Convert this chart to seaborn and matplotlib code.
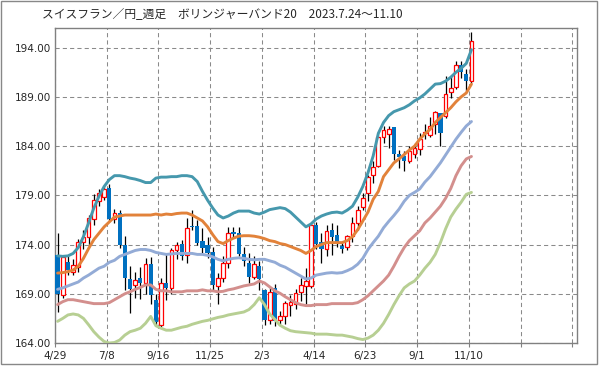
import pandas as pd
import seaborn as sns
import matplotlib.pyplot as plt
from matplotlib.patches import Rectangle

# weekly candles, 81 weeks (4/29 ... 11/10)
weeks = list(range(81))

open_ = [172.9, 168.9, 172.2, 171.2, 171.7, 174.3, 174.8, 176.6, 178.4, 178.8,
         179.7, 176.6, 177.2, 174.0, 170.5, 169.9, 170.65, 170.1, 172.0, 168.4,
         165.8, 170.1, 169.6, 173.4, 174.07, 172.95, 175.9, 175.9, 174.4, 173.96,
         173.2, 169.8, 170.6, 172.1, 175.25, 175.15, 173.05, 172.1, 170.7, 171.8,
         169.4, 166.3, 169.6, 166.35, 166.75, 167.9, 168.0, 169.2, 169.8, 169.8,
         176.0, 174.3, 173.6, 175.5, 175.0, 173.9, 173.8, 174.9, 176.2, 177.8,
         179.2, 181.05, 182.0, 184.9, 185.2, 185.9, 183.15, 183.0, 182.5, 183.15,
         183.7, 185.3, 185.1, 186.2, 187.4, 187.05, 189.5, 190.0, 192.2, 191.35,
         190.6]
high = [175.2, 172.9, 172.8, 172.5, 174.6, 175.5, 177.0, 179.1, 179.6, 180.0,
        180.2, 177.6, 177.5, 174.9, 171.8, 171.2, 171.7, 172.6, 172.7, 169.0,
        170.6, 173.0, 173.7, 174.3, 174.5, 176.7, 177.5, 176.5, 175.7, 174.8,
        173.8, 171.1, 172.8, 175.8, 175.8, 175.8, 173.8, 173.1, 172.8, 172.3,
        169.5, 169.7, 170.0, 167.3, 168.3, 168.9, 169.5, 170.6, 171.6, 176.1,
        176.3, 175.2, 176.0, 176.2, 176.0, 174.3, 175.0, 176.85, 177.9, 179.2,
        181.1, 182.5, 185.0, 186.0, 186.0, 185.95, 183.6, 183.5, 184.0, 184.3,
        185.3, 186.2, 187.0, 187.6, 187.4, 191.1, 191.1, 192.6, 192.6, 191.8,
        195.6]
low = [167.1, 168.6, 170.9, 170.9, 171.2, 173.5, 174.0, 176.0, 177.9, 178.5,
       176.3, 176.2, 173.7, 169.4, 167.0, 168.6, 168.5, 169.0, 168.0, 165.8,
       165.6, 168.4, 169.0, 172.5, 172.4, 172.1, 175.5, 174.0, 173.1, 172.6,
       169.4, 168.0, 170.2, 171.6, 174.8, 172.8, 171.8, 170.1, 170.5, 169.4,
       165.8, 165.9, 165.7, 165.9, 165.9, 166.7, 167.5, 168.3, 168.0, 169.6,
       173.6, 172.1, 172.8, 172.9, 173.8, 173.1, 173.4, 174.3, 175.5, 177.5,
       178.4, 180.3, 181.9, 184.3, 183.8, 182.6, 181.8, 181.5, 182.3, 182.8,
       183.1, 184.7, 184.9, 185.2, 184.0, 186.9, 188.9, 189.8, 190.9, 189.6,
       190.4]
close = [169.0, 172.7, 171.4, 171.9, 174.3, 174.8, 176.7, 178.5, 179.2, 179.6,
         176.6, 177.2, 174.0, 170.6, 169.45, 170.4, 170.1, 172.0, 168.9, 166.1,
         170.1, 169.6, 173.4, 174.0, 172.8, 175.7, 175.8, 174.2, 173.7, 173.1,
         169.9, 170.6, 172.1, 175.2, 175.1, 173.05, 172.3, 170.7, 172.0, 170.5,
         166.3, 169.2, 166.2, 166.75, 168.1, 168.2, 169.1, 169.9, 170.3, 176.0,
         174.1, 173.5, 175.4, 174.8, 174.3, 173.6, 174.9, 176.2, 177.5, 178.7,
         180.9, 181.9, 184.9, 185.6, 185.7, 183.15, 182.9, 182.5, 183.5, 183.8,
         184.7, 185.4, 186.0, 187.5, 185.35, 189.3, 189.9, 192.2, 191.5, 190.6,
         194.7]

# bollinger bands (20 weeks)
band_p2 = [172.85, 172.8, 172.85, 173.1, 173.7, 174.8, 176.2, 177.7, 178.9, 179.9,
           180.6, 181.0, 181.0, 180.9, 180.75, 180.65, 180.5, 180.3, 180.3, 180.75,
           180.85, 180.85, 180.9, 180.9, 181.0, 181.0, 180.9, 180.4, 179.4, 178.5,
           177.7, 177.0, 176.7, 176.9, 177.2, 177.4, 177.4, 177.4, 177.2, 177.1,
           177.3, 177.55, 177.65, 177.75, 177.65, 177.3, 176.8, 176.3, 175.8, 176.1,
           176.6, 176.9, 177.1, 177.25, 177.3, 177.2, 177.5, 177.9, 178.8, 179.9,
           181.3, 183.0, 185.3, 186.4, 187.1, 187.5, 187.7, 187.9, 188.2, 188.6,
           188.9, 189.3, 189.8, 190.3, 190.35, 190.6, 191.0, 191.5, 191.9, 192.4,
           193.8]
band_p1 = [171.1, 171.15, 171.25, 171.4, 171.8, 172.6, 173.6, 174.5, 175.15, 175.8,
           176.3, 176.8, 176.9, 177.0, 177.0, 177.0, 177.0, 177.0, 177.0, 177.1,
           177.0, 177.1, 177.05, 177.15, 177.2, 177.2, 177.0, 176.7, 176.4, 175.8,
           175.0, 174.3, 174.1, 174.4, 174.65, 174.85, 174.9, 174.9, 174.85, 174.75,
           174.6, 174.4, 174.3, 174.1, 174.0, 173.8, 173.6, 173.4, 173.1, 173.4,
           173.8, 174.0, 174.2, 174.2, 174.2, 174.2, 174.4, 174.8, 175.5, 176.4,
           177.3, 178.6, 179.4, 180.9, 181.6, 182.3, 182.7, 183.15, 183.6, 184.0,
           184.7, 185.25, 185.7, 186.4, 186.9, 187.4, 187.9, 188.5, 189.0, 189.4,
           190.3]
band_mid = [169.45, 169.6, 169.8, 170.0, 170.2, 170.6, 170.9, 171.25, 171.6, 171.8,
            172.2, 172.4, 172.8, 173.0, 173.2, 173.4, 173.5, 173.5, 173.4, 173.2,
            173.1, 173.0, 173.05, 173.1, 173.1, 173.1, 173.1, 173.0, 173.0, 172.9,
            172.75, 172.5, 172.35, 172.5, 172.6, 172.65, 172.6, 172.5, 172.45, 172.5,
            172.5, 172.35, 172.2, 171.9, 171.7, 171.4, 171.1, 170.8, 170.5, 170.6,
            170.9, 171.0, 171.1, 171.15, 171.1, 171.15, 171.35, 171.6, 172.0, 172.6,
            173.5, 174.2, 174.85, 175.7, 176.35, 176.95, 177.6, 178.4, 179.0, 179.3,
            179.65, 180.35, 180.9, 181.6, 182.3, 183.1, 183.9, 184.7, 185.4, 186.05,
            186.5]
band_m1 = [167.9, 168.2, 168.4, 168.4, 168.3, 168.2, 168.1, 168.0, 168.0, 168.0,
           168.1, 168.4, 168.7, 169.0, 169.2, 169.45, 169.65, 169.9, 169.9, 169.45,
           169.3, 169.3, 169.2, 169.2, 169.2, 169.3, 169.3, 169.3, 169.4, 169.3,
           169.3, 169.2, 169.25, 169.4, 169.5, 169.65, 169.8, 169.9, 170.0, 170.3,
           170.1, 169.7, 169.3, 169.05, 168.7, 168.4, 168.1, 167.9, 167.8, 167.8,
           167.9, 167.9, 167.9, 168.0, 168.0, 168.0, 168.0, 168.0, 168.1, 168.4,
           168.8, 169.3, 169.8, 170.3, 170.9, 171.8, 172.8, 173.7, 174.4, 174.9,
           175.4, 176.2, 176.7, 177.3, 177.9, 178.7, 179.7, 181.0, 182.0, 182.7,
           182.95]
band_m2 = [166.2, 166.5, 166.85, 166.95, 166.85, 166.5, 165.85, 165.15, 164.6, 164.15,
           164.0, 164.05, 164.3, 164.8, 165.15, 165.3, 165.5, 166.0, 166.7, 165.75,
           165.5, 165.3, 165.3, 165.45, 165.6, 165.7, 165.9, 166.05, 166.2, 166.3,
           166.45, 166.6, 166.7, 166.85, 166.95, 167.05, 167.15, 167.4, 167.9, 168.6,
           167.9, 166.95, 166.4, 165.8, 165.5, 165.25, 165.15, 165.1, 165.05, 165.0,
           164.9, 164.9, 164.9, 164.85, 164.8, 164.8, 164.7, 164.6, 164.45, 164.35,
           164.5, 164.8, 165.3, 166.0, 166.9, 167.9, 168.8, 169.6, 170.0, 170.3,
           170.9, 171.6, 172.2, 173.0, 174.2, 175.6, 176.8, 177.6, 178.3, 179.1,
           179.3]

tick_weeks = list(range(0, 101, 10))
tick_labels = ["4/29", "7/8", "9/16", "11/25", "2/3", "4/14", "6/23", "9/1", "11/10", "", ""]
y_ticks = [164, 169, 174, 179, 184, 189, 194]
title = "スイスフラン／円_週足　ボリンジャーバンド20　2023.7.24～11.10"

df = pd.DataFrame({"week": weeks, "open": open_, "high": high, "low": low, "close": close,
                   "p2": band_p2, "p1": band_p1, "mid": band_mid, "m1": band_m1, "m2": band_m2})
df["x"] = df["week"] + 0.5
up = df["close"] >= df["open"]

sns.set_style("white")
plt.rcParams["font.family"] = ["Noto Sans CJK JP", "DejaVu Sans"]

fig = plt.figure(figsize=(5.99, 3.70), dpi=100)
ax = fig.add_axes([55 / 599, 1 - 343 / 370, 522 / 599, 315 / 370])

# wicks then bodies
ax.vlines(df["x"], df["low"], df["high"], color="black", lw=0.9, zorder=2)
u = df[up]
d = df[~up]
ax.bar(u["x"], (u["close"] - u["open"]).clip(lower=0.12), bottom=u["open"], width=0.72,
       facecolor="white", edgecolor="#ff0000", lw=0.9, zorder=3)
ax.bar(d["x"], (d["open"] - d["close"]).clip(lower=0.12), bottom=d["close"], width=0.82,
       color="#0070c0", lw=0, zorder=3)

bands = [("p2", "#4698ad"), ("p1", "#e2823a"), ("mid", "#93abd6"),
         ("m1", "#d38f8d"), ("m2", "#b7cf93")]
for col, c in bands:
    sns.lineplot(data=df, x="x", y=col, color=c, lw=2.1, ax=ax, zorder=4)

ax.set_xlim(0, 100.9)
ax.set_ylim(164, 196)
ax.set_xticks(tick_weeks)
ax.set_xticklabels(tick_labels, fontsize=7.5, family="DejaVu Sans")
ax.set_yticks(y_ticks)
ax.set_yticklabels([f"{v:.2f}" for v in y_ticks], fontsize=7.5, family="DejaVu Sans")
ax.set_xlabel("")
ax.set_ylabel("")
ax.grid(True, ls=(0, (4, 3)), color="#8a8a8a", lw=0.75)
ax.set_axisbelow(True)
ax.tick_params(axis="x", length=3, width=0.8, color="#808080", pad=2.5, direction="out")
ax.tick_params(axis="y", length=0, pad=3)
ax.tick_params(bottom=True)
for s in ax.spines.values():
    s.set_color("#808080")
    s.set_linewidth(1)

fig.text(42 / 599, 1 - 14 / 370, title, fontsize=8.5, va="center", ha="left")
fig.patches.append(Rectangle((0.5 / 599, 1 - 363.5 / 370), 596.5 / 599, 363 / 370,
                             transform=fig.transFigure, fill=False, ec="#888888", lw=1))

plt.savefig("out.png", dpi=100)
